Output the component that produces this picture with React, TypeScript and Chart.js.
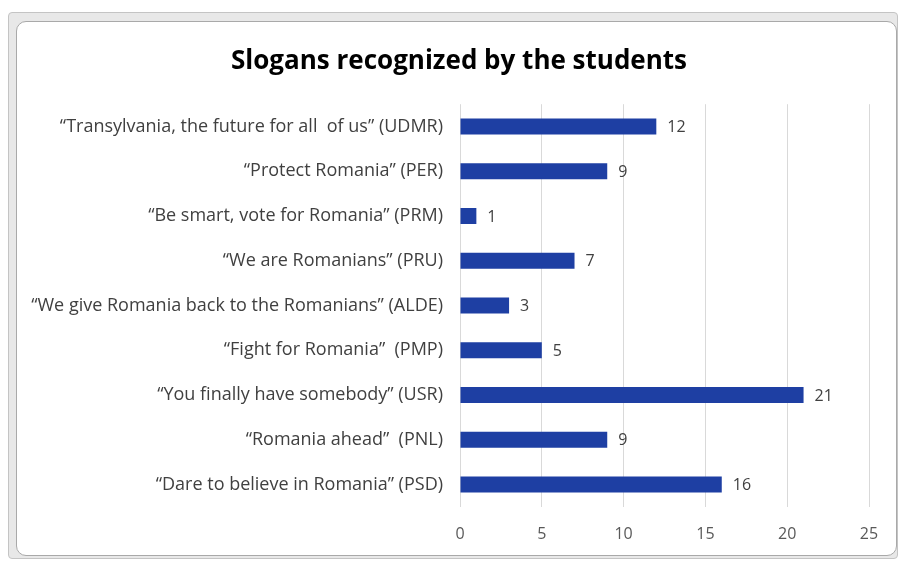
import React, { useEffect, useRef } from "react";
import { Chart, registerables } from "chart.js";

Chart.register(...registerables);

const TITLE = "Slogans recognized by the students";
const categories = [
  "\u201CTransylvania, the future for all  of us\u201D (UDMR)",
  "\u201CProtect Romania\u201D (PER)",
  "\u201CBe smart, vote for Romania\u201D (PRM)",
  "\u201CWe are Romanians\u201D (PRU)",
  "\u201CWe give Romania back to the Romanians\u201D (ALDE)",
  "\u201CFight for Romania\u201D  (PMP)",
  "\u201CYou finally have somebody\u201D (USR)",
  "\u201CRomania ahead\u201D  (PNL)",
  "\u201CDare to believe in Romania\u201D (PSD)",
];
const values = [12, 9, 1, 7, 3, 5, 21, 9, 16];
const xMin = 0;
const xMax = 25;
const xStep = 5;

const FONT = "'Open Sans', 'Noto Sans', sans-serif";

const valueLabels = {
  id: "valueLabels",
  afterDatasetsDraw(chart: any) {
    const ctx = chart.ctx;
    const meta = chart.getDatasetMeta(0);
    ctx.save();
    ctx.font = `16px ${FONT}`;
    ctx.fillStyle = "#404040";
    ctx.textBaseline = "middle";
    ctx.textAlign = "left";
    meta.data.forEach((el: any, i: number) => {
      ctx.fillText(String(values[i]), el.x + 11, el.y + 1);
    });
    ctx.restore();
  },
};

// let long category labels use the space left of the axis box (avoid clipping)
const widenLabelArea = {
  id: "widenLabelArea",
  afterLayout(chart: any) {
    const y = chart.scales.y;
    if (y) y.left = 0;
  },
};

export default function App() {
  const ref = useRef<HTMLCanvasElement | null>(null);
  useEffect(() => {
    if (!ref.current) return;
    const chart = new Chart(ref.current, {
      type: "bar",
      data: {
        labels: categories,
        datasets: [
          {
            data: values,
            backgroundColor: "#1E3FA3",
            borderWidth: 0,
            barPercentage: 0.72,
            categoryPercentage: 0.5,
          },
        ],
      },
      options: {
        indexAxis: "y",
        animation: false,
        responsive: false,
        maintainAspectRatio: false,
        layout: { padding: { left: 49, right: 31, top: 10, bottom: 0 } },
        plugins: {
          legend: { display: false },
          tooltip: { enabled: false },
          title: {
            display: true,
            text: TITLE,
            color: "#000000",
            font: { family: FONT, size: 26, weight: "bold" },
            padding: { top: 36, bottom: 27 },
          },
        },
        scales: {
          x: {
            min: xMin,
            max: xMax,
            ticks: {
              stepSize: xStep,
              color: "#595959",
              font: { family: FONT, size: 16 },
              padding: 18,
            },
            grid: { color: "#d9d9d9", drawTicks: false },
            border: { display: false },
          },
          y: {
            afterFit(scale: any) {
              scale.width = 411;
            },
            ticks: {
              color: "#404040",
              font: { family: FONT, size: 18 },
              padding: 17,
            },
            grid: { display: false, drawTicks: false },
            border: { display: false },
          },
        },
      },
      plugins: [valueLabels, widenLabelArea],
    });
    return () => chart.destroy();
  }, []);

  return (
    <div style={{ position: "absolute", left: 0, top: 0, width: 900, height: 562, background: "#fff" }}>
      <div
        style={{
          position: "absolute",
          left: 8,
          top: 12,
          width: 890,
          height: 547,
          boxSizing: "border-box",
          background: "#e8e8e8",
          border: "1px solid #c4c4c4",
          borderRadius: 4,
        }}
      />
      <div
        style={{
          position: "absolute",
          left: 16,
          top: 21,
          width: 881,
          height: 535,
          boxSizing: "border-box",
          background: "#ffffff",
          border: "1px solid #a9a9a9",
          borderRadius: "10px 10px 10px 10px",
        }}
      />
      <canvas
        ref={ref}
        width={900}
        height={562}
        style={{ position: "absolute", left: 0, top: 0, width: 900, height: 562 }}
      />
    </div>
  );
}
